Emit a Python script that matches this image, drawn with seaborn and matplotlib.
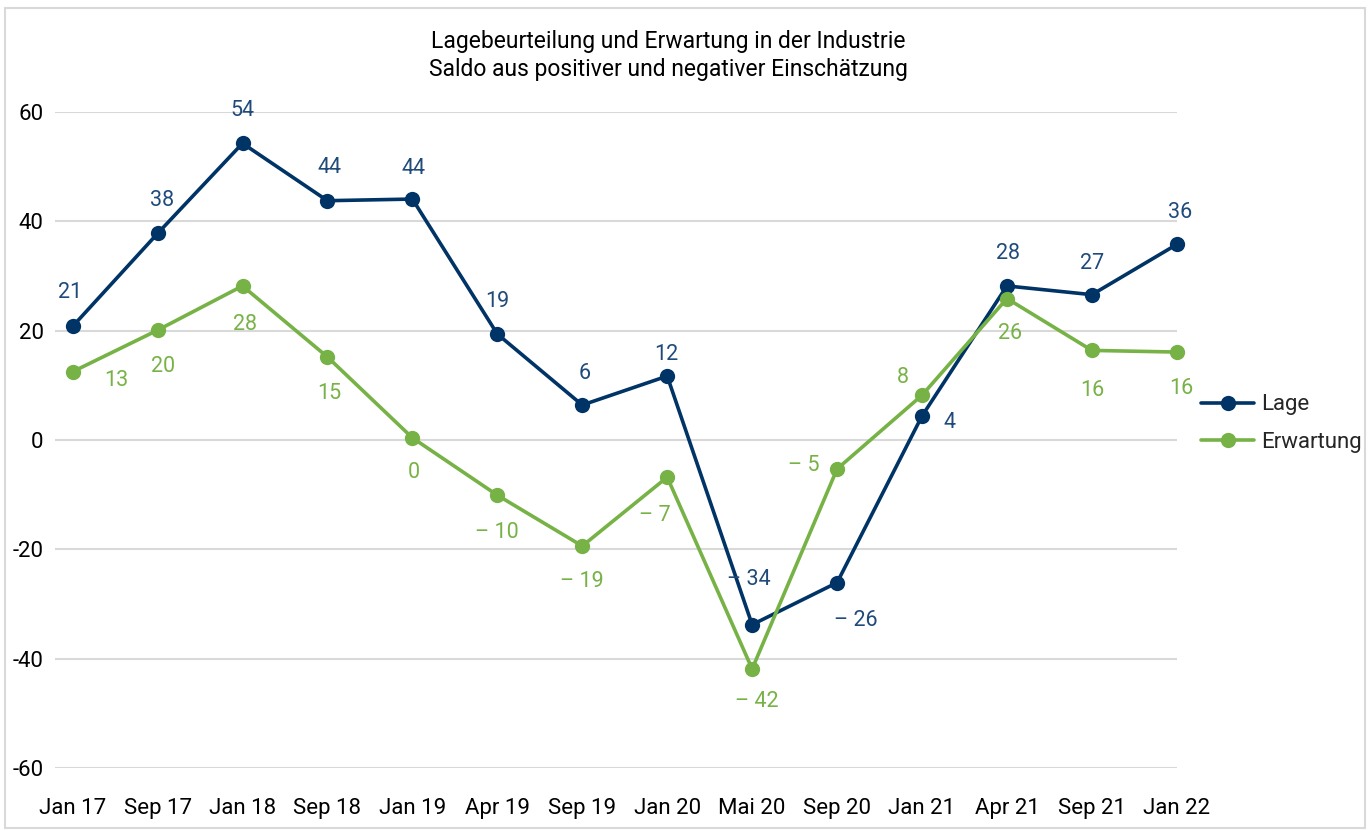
import numpy as np
import pandas as pd
import seaborn as sns
import matplotlib
matplotlib.use("Agg")
from matplotlib import pyplot as plt
from matplotlib.patches import Rectangle

# Werte
perioden = ["Jan 17", "Sep 17", "Jan 18", "Sep 18", "Jan 19", "Apr 19", "Sep 19",
            "Jan 20", "Mai 20", "Sep 20", "Jan 21", "Apr 21", "Sep 21", "Jan 22"]
lage = [20.8, 37.8, 54.3, 43.8, 44.1, 19.4, 6.4, 11.7, -33.8, -26.1, 4.4, 28.2, 26.6, 35.8]
erwartung = [12.5, 20.1, 28.2, 15.2, 0.4, -10.1, -19.4, -6.8, -41.9, -5.3, 8.2, 25.9, 16.4, 16.1]
lage_labels = [21, 38, 54, 44, 44, 19, 6, 12, -34, -26, 4, 28, 27, 36]
erwartung_labels = [13, 20, 28, 15, 0, -10, -19, -7, -42, -5, 8, 26, 16, 16]

titel = "Lagebeurteilung und Erwartung in der Industrie\nSaldo aus positiver und negativer Einschätzung"

farbe_lage = "#003466"
farbe_erw = "#77b246"
farbe_lage_txt = "#1f4a7a"

# Label-Versatz in Pixeln (dx, dy nach oben positiv)
off_lage = [(-3, 34), (4, 33), (0, 33), (2, 33), (1, 31), (0, 33), (2, 32),
            (-1, 22), (-3, 45), (19, -38), (27, -7), (1, 32), (0, 31), (3, 32)]
off_erw = [(44, -9), (5, -36), (2, -39), (2, -37), (1, -35), (0, -37), (0, -35),
           (-12, -38), (5, -33), (-33, 3), (-19, 18), (3, -35), (0, -40), (4, -36)]

df = pd.DataFrame({
    "x": list(range(len(perioden))) * 2,
    "wert": lage + erwartung,
    "reihe": ["Lage"] * len(perioden) + ["Erwartung"] * len(perioden),
})

sns.set_theme(style="white")
plt.rcParams["font.family"] = ["Roboto", "DejaVu Sans"]
plt.rcParams["axes.unicode_minus"] = False

fig = plt.figure(figsize=(13.7, 8.31), dpi=100)
ax = fig.add_axes([0.040, 0.076, 0.819, 0.789])

ax.yaxis.grid(True, color="#d9d9d9", linewidth=1.5)
ax.set_axisbelow(True)

sns.lineplot(data=df, x="x", y="wert", hue="reihe", palette=[farbe_lage, farbe_erw],
             marker="o", markersize=11, markeredgewidth=0, linewidth=2.6,
             sort=False, ax=ax, zorder=3)
for ln in ax.lines:
    ln.set_clip_on(False)

def fmt(v):
    return f"\u2013 {abs(v)}" if v < 0 else str(v)

for i in range(len(perioden)):
    ax.annotate(fmt(lage_labels[i]), (i, lage[i]), xytext=off_lage[i],
                textcoords="offset pixels", ha="center", va="center",
                fontsize=15.5, color=farbe_lage_txt)
    ax.annotate(fmt(erwartung_labels[i]), (i, erwartung[i]), xytext=off_erw[i],
                textcoords="offset pixels", ha="center", va="center",
                fontsize=15.5, color=farbe_erw)

ax.set_xlim(-0.21, len(perioden) - 1)
ax.set_ylim(-60, 60)
ax.set_yticks(range(-60, 61, 20))
ax.set_xticks(range(len(perioden)))
ax.set_xticklabels(perioden)
ax.tick_params(axis="x", labelsize=16, pad=22, colors="black", length=0)
ax.tick_params(axis="y", labelsize=16, pad=8, colors="black", length=0)
ax.set_xlabel("")
ax.set_ylabel("")
for s in ax.spines.values():
    s.set_visible(False)

handles, labels = ax.get_legend_handles_labels()
ax.legend(handles, labels, loc="center left", bbox_to_anchor=(0.862, 0.49),
          bbox_transform=fig.transFigure, frameon=False, fontsize=16,
          handlelength=2.4, handletextpad=0.3, labelspacing=0.75)

fig.text(0.488, 0.933, titel, ha="center", va="center", fontsize=16.5,
         color="black", linespacing=1.3)

fig.patches.append(Rectangle((0.004, 0.004), 0.992, 0.986, transform=fig.transFigure,
                             fill=False, edgecolor="#d9d9d9", linewidth=1.5))

fig.savefig("out.png", dpi=100)
